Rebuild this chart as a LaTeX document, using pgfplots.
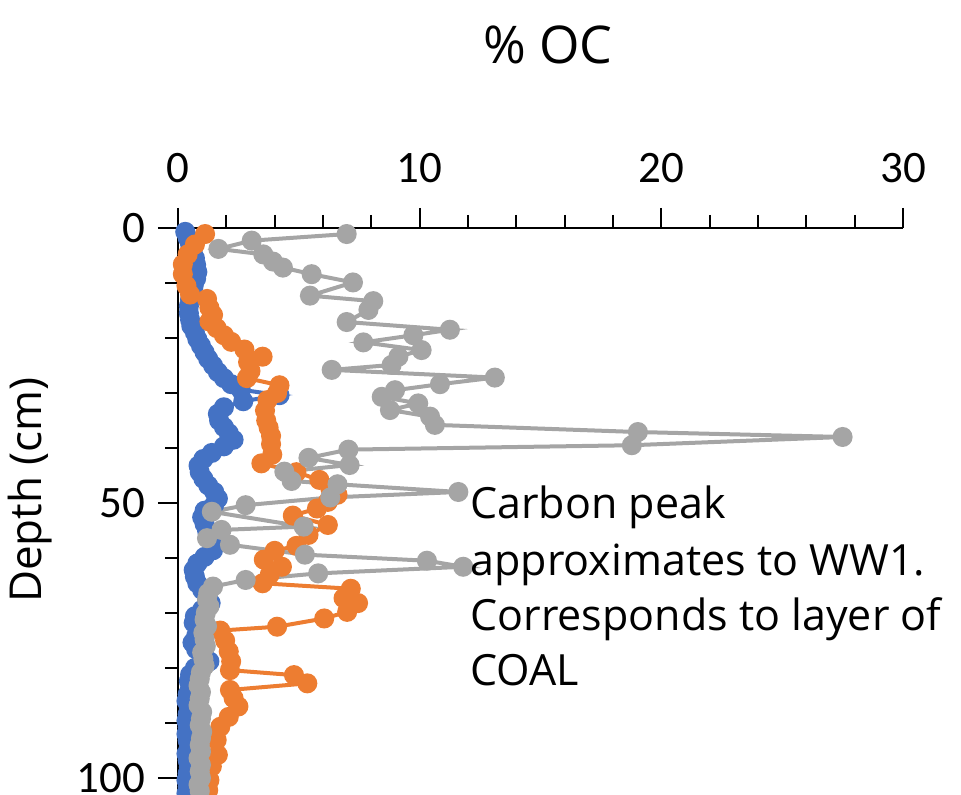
\documentclass[border=0pt]{standalone}
\usepackage{pgfplots}
\pgfplotsset{compat=1.18}
\usepackage{fontspec}
\setmainfont{Open Sans}
\newfontfamily\tickfont{Carlito}
\definecolor{cblue}{HTML}{4472C4}
\definecolor{corange}{HTML}{ED7D31}
\definecolor{cgray}{HTML}{A5A5A5}
\begin{document}
\begin{tikzpicture}
\path[use as bounding box] (0,0) rectangle (480.5pt,397.5pt);
\begin{axis}[
  at={(89pt,283.5pt)}, anchor=north west,
  scale only axis, width=362.5pt, height=283.5pt,
  xmin=0, xmax=30, ymin=0, ymax=103.1,
  y dir=reverse,
  axis x line=top, axis y line=left,
  axis line style={-, line width=1pt, black},
  xtick={0,10,20,30}, minor x tick num=4,
  ytick={0,50,100}, minor y tick num=4,
  tick align=outside,
  major tick length=10pt, minor tick length=6.5pt,
  tick style={black, line width=1pt},
  every tick/.style={black, line width=1pt},
  /pgf/number format/assume math mode=true,
  ticklabel style={font=\tickfont\fontsize{22.5}{22.5}\selectfont},
  xticklabel style={yshift=9pt},
  yticklabel style={xshift=-3pt, inner ysep=0pt},
  clip=false,
]
\addplot[cblue, line width=2pt, mark=*, mark size=4pt, mark options={fill=cblue, draw=cblue}] table {
x y
0.3 0.7
0.4 1.8
0.5 3.0
0.6 4.2
0.7 5.5
0.75 6.7
0.8 8.0
0.75 9.2
0.65 10.5
0.6 11.7
0.5 13.0
0.45 14.2
0.45 15.5
0.5 16.7
0.55 17.8
0.7 19.0
0.8 20.2
0.95 21.4
1.1 22.6
1.25 23.8
1.45 25.0
1.65 26.2
1.9 27.3
2.2 28.4
2.6 29.4
4.2 30.4
2.7 31.5
1.9 32.6
1.65 33.8
1.7 35.0
1.9 36.2
2.1 37.3
2.3 38.5
1.9 39.7
1.4 40.9
1.05 42.0
0.85 43.2
0.9 44.4
1.05 45.6
1.25 46.8
1.5 48.0
1.65 49.2
1.5 50.3
1.1 51.4
1.0 52.6
1.1 53.8
1.2 55.0
1.3 56.2
1.4 57.4
1.45 58.6
1.1 59.8
0.8 61.0
0.65 62.2
0.7 63.4
0.8 64.6
1.0 65.8
1.2 67.0
1.35 68.2
1.0 69.4
0.7 70.6
0.65 71.8
0.85 73.0
0.75 74.2
0.6 75.4
0.75 76.6
1.0 77.8
1.3 78.8
0.7 80.0
0.5 81.2
0.45 82.4
0.5 83.6
0.4 84.8
0.35 86.0
0.45 87.2
0.4 88.4
0.35 89.6
0.4 90.8
0.35 92.0
0.4 93.2
0.45 94.4
0.35 95.6
0.4 96.8
0.45 98.0
0.4 99.2
0.35 100.4
0.4 101.6
0.35 102.8
};
\addplot[corange, line width=2pt, mark=*, mark size=4pt, mark options={fill=corange, draw=corange}] table {
x y
1.12 1.1
0.7 3.0
0.4 4.8
0.2 6.6
0.2 8.4
0.35 10.5
0.5 12.1
1.2 12.9
1.3 14.5
1.45 15.8
1.3 17.0
1.6 18.2
1.9 19.5
2.2 20.7
2.75 22.1
3.5 23.4
2.9 24.4
3.0 26.0
2.85 27.3
4.2 28.6
4.1 30.0
3.7 31.3
3.6 33.2
3.65 35.0
3.75 36.3
3.85 37.8
3.85 39.3
3.9 41.2
3.45 42.8
4.9 44.4
5.85 45.8
6.3 47.3
6.6 48.5
6.2 49.8
5.75 51.0
4.75 52.3
6.2 54.0
5.4 55.8
4.9 57.8
4.0 58.7
3.55 60.3
4.3 61.6
3.8 63.0
3.5 64.6
7.15 65.6
6.85 67.3
7.45 68.2
7.0 69.8
6.05 71.0
4.1 72.5
1.75 73.2
1.95 75.0
2.1 77.0
2.2 78.8
2.15 80.4
4.8 81.3
5.35 82.8
2.15 84.0
2.3 85.5
2.5 87.0
2.1 88.9
1.75 90.7
1.6 93.1
1.65 95.8
1.4 97.9
1.3 100.4
1.25 102.2
};
\addplot[cgray, line width=2pt, mark=*, mark size=4pt, mark options={fill=cgray, draw=cgray}] table {
x y
6.98 1.1
3.05 2.3
1.67 3.8
3.53 4.8
3.93 6.1
4.34 7.2
5.53 8.4
7.24 9.9
5.46 12.3
8.08 13.3
7.88 14.9
6.98 17.1
11.25 18.5
9.74 19.5
7.67 20.8
10.08 22.2
9.12 23.4
8.84 24.9
6.36 25.8
13.11 27.2
10.84 28.4
8.98 29.5
8.43 30.7
9.94 31.9
8.77 33.1
10.43 34.3
10.63 35.8
19.03 37.1
27.5 38.0
18.78 39.5
7.05 40.3
5.4 41.8
7.1 43.1
4.4 44.3
4.7 46.0
6.6 46.6
11.6 48.0
6.3 49.0
2.8 50.4
1.4 51.6
5.2 54.3
1.8 54.9
1.2 56.4
2.15 57.6
5.25 59.4
10.3 60.5
11.8 61.6
5.8 62.8
2.8 64.0
1.45 65.2
1.25 66.4
1.2 67.6
1.3 68.8
1.15 70.0
1.1 71.2
1.2 72.4
1.05 73.6
1.1 74.8
1.15 76.0
1.0 77.2
1.05 78.4
1.1 79.6
0.95 80.8
0.9 82.0
0.85 83.2
0.95 84.4
0.9 85.6
0.85 86.8
1.0 88.0
0.95 89.2
0.9 90.4
1.0 91.6
0.95 92.8
0.9 94.0
0.95 95.2
0.85 96.4
0.95 97.6
0.9 98.8
0.95 100.0
0.85 101.2
0.9 102.4
};
\end{axis}
\node[anchor=base, font=\fontsize{26}{26}\selectfont] at (274pt,365.5pt) {\% OC};
\node[rotate=90, anchor=center, font=\fontsize{22}{22}\selectfont] at (15pt,152.5pt) {Depth (cm)};
\begin{scope}[every node/.style={anchor=base west, inner sep=0pt, font=\fontsize{21.5}{21.5}\selectfont}]
\node at (235pt,138pt) {Carbon peak};
\node at (235pt,109.5pt) {approximates to WW1.};
\node at (235pt,82pt) {Corresponds to layer of};
\node at (235pt,54.5pt) {COAL};
\end{scope}
\end{tikzpicture}
\end{document}
